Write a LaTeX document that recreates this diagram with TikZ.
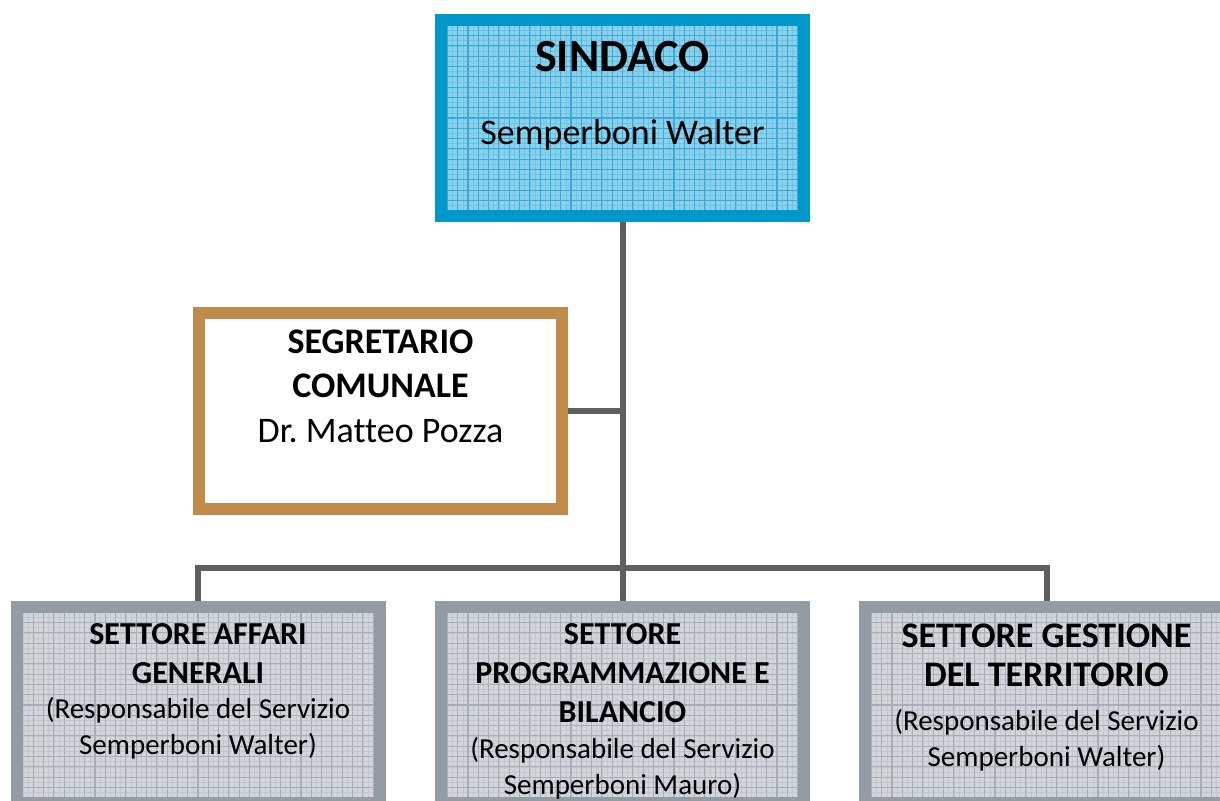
\documentclass[tikz,border=0pt]{standalone}
\usepackage{fontspec}
\setmainfont{Carlito}[Ligatures={NoCommon}]
\frenchspacing
\definecolor{bordoBlu}{HTML}{0098CC}
\definecolor{fondoBlu}{HTML}{8CD1EB}
\definecolor{grigliaBlu}{HTML}{38A9D8}
\definecolor{bordoOro}{HTML}{BF8A4A}
\definecolor{bordoGrigio}{HTML}{939BA5}
\definecolor{fondoGrigio}{HTML}{D2D6DB}
\definecolor{grigliaGrigio}{HTML}{A7AEB7}
\definecolor{linea}{HTML}{5F5F5F}
\newcommand{\titolo}[2]{{\fontsize{#1}{#1}\selectfont\bfseries #2}}
\tikzset{
  griglia/.style 2 args={path picture={
      \draw[#1!35!#2, line width=0.3pt] (path picture bounding box.south west) grid[step=2.575pt] (path picture bounding box.north east);
      \draw[#1, line width=0.55pt] (path picture bounding box.south west) grid[step=5.15pt] (path picture bounding box.north east);}},
  casella/.style={rectangle, line width=6pt, minimum width=181.5pt, minimum height=98pt, inner sep=0pt},
  sindacobox/.style={casella, draw=bordoBlu, fill=fondoBlu, griglia={grigliaBlu}{fondoBlu}},
  segrbox/.style={casella, draw=bordoOro, fill=white},
  settorebox/.style={casella, draw=bordoGrigio, fill=fondoGrigio, griglia={grigliaGrigio}{fondoGrigio}},
  linea/.style={draw=linea, line width=3pt},
  testo/.style={align=center, anchor=north, inner sep=0pt}
}

\begin{document}
\begin{tikzpicture}[x=0.5pt, y=-0.5pt]
    \path[use as bounding box, clip] (0,0) rectangle (1220,801);

    % caselle
    \node[sindacobox] (sindaco) at (622.5,118) {};
    \node[segrbox] (segretario) at (380.5,411) {};
    \node[settorebox] (affari) at (198,705) {};
    \node[settorebox] (bilancio) at (622.5,705) {};
    \node[settorebox] (territorio) at (1046.5,705) {};

    % collegamenti
    \coordinate (bus) at (622.5,568);
    \draw[linea] (sindaco.south) -- (bilancio.north);
    \draw[linea] (segretario.east) -- (segretario.east -| sindaco.south);
    \draw[linea] (affari.north) -- (affari.north |- bus) -- (territorio.north |- bus) -- (territorio.north);

    % testi
    \node[testo, font=\fontsize{18pt}{22pt}\selectfont] (sindacoT) at (622.5,41)
        {\titolo{23pt}{SINDACO}\\[14.5pt] Semperboni Walter};
    \node[testo, font=\fontsize{18pt}{22.25pt}\selectfont] (segretarioT) at (380.5,329)
        {\titolo{18pt}{SEGRETARIO}\\ \titolo{18pt}{COMUNALE}\\ Dr. Matteo Pozza};
    \node[testo, font=\fontsize{14.5pt}{17.75pt}\selectfont] (affariT) at (198,623)
        {\titolo{16pt}{SETTORE AFFARI}\\[1.75pt] \titolo{16pt}{GENERALI}\\ (Responsabile del Servizio\\ Semperboni Walter)};
    \node[testo, font=\fontsize{14.5pt}{18pt}\selectfont] (bilancioT) at (622.5,623)
        {\titolo{16pt}{SETTORE}\\[1.5pt] \titolo{16pt}{PROGRAMMAZIONE E}\\[1.5pt] \titolo{16pt}{BILANCIO}\\ (Responsabile del Servizio\\ Semperboni Mauro)};
    \node[testo, font=\fontsize{14.5pt}{18pt}\selectfont] (territorioT) at (1046.5,623)
        {\titolo{18pt}{SETTORE GESTIONE}\\[1.5pt] \titolo{18pt}{DEL TERRITORIO}\\[4pt] (Responsabile del Servizio\\ Semperboni Walter)};
\end{tikzpicture}
\end{document}
